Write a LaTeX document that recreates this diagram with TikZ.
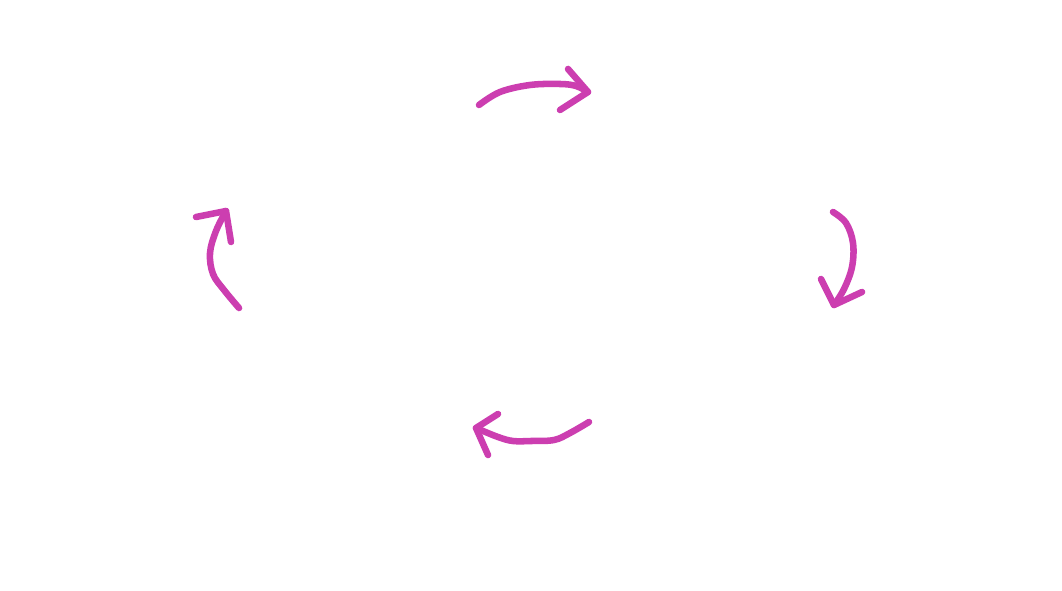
\documentclass[tikz,border=0pt]{standalone}
\usetikzlibrary{calc}
\definecolor{penmag}{RGB}{204,62,176}
\begin{document}
\begin{tikzpicture}[x=0.75pt,y=-0.75pt,
  stroke/.style={draw=penmag,line width=4.9pt,line cap=round,line join=round}]
\useasboundingbox[fill=white] (0,0) rectangle (1062,591);
% top arrow
\draw[stroke] plot[smooth,tension=0.6] coordinates {(479,105) (500,92) (530,85) (560,84) (576,86) (588,92)};
\draw[stroke] (568,69) -- (588,92) -- (560,110);
% right arrow
\draw[stroke] plot[smooth,tension=0.6] coordinates {(833,212) (846,223) (853,243) (852,267) (844,289) (834,305)};
\draw[stroke] (821,279) -- (834,305) -- (862,292);
% bottom arrow
\draw[stroke] plot[smooth,tension=0.6] coordinates {(589,422) (570,433) (554,440) (531,441) (513,441) (498,437) (476,428)};
\draw[stroke] (498,414) -- (476,428) -- (488,455);
% left arrow
\draw[stroke] plot[smooth,tension=0.6] coordinates {(239,308) (224,290) (213,274) (210,253) (216,231) (226,211)};
\draw[stroke] (196,217) -- (226,211) -- (231,242);
\end{tikzpicture}
\end{document}
